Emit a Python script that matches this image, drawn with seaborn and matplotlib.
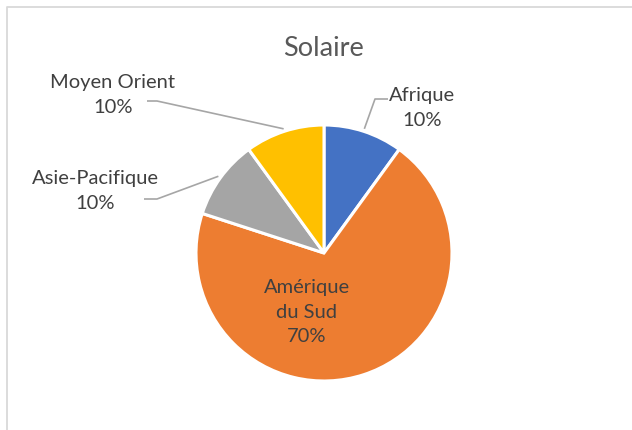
import numpy as np
import matplotlib
matplotlib.use("Agg")
import matplotlib.pyplot as plt
import seaborn as sns

# data
regions = ["Afrique", "Amérique du Sud", "Asie-Pacifique", "Moyen Orient"]
shares = [10, 70, 10, 10]
colors = ["#4472C4", "#ED7D31", "#A5A5A5", "#FFC000"]
title = "Solaire"

sns.set_theme(style="white")
plt.rcParams["font.family"] = ["Lato", "DejaVu Sans"]
palette = sns.color_palette(colors)

W, H = 632, 430
fig = plt.figure(figsize=(W / 100, H / 100), dpi=100)
ax = fig.add_axes([0, 0, 1, 1])


def px(x, y):
    # pixel position (y from top) -> data coords
    return x, H - y


cx, cy = px(324, 253)
R = 128
wedges, _ = ax.pie(shares, colors=palette, startangle=90, counterclock=False,
                   radius=R, center=(cx, cy), frame=True,
                   wedgeprops=dict(edgecolor="white", linewidth=2.2))
ax.set_xlim(0, W)
ax.set_ylim(0, H)
ax.set_aspect("equal")
ax.axis("off")

txt_col = "#404040"
line_col = "#A6A6A6"
fs = 14.5
lsp = 1.55

# outside labels: text centre, then elbow points of the leader line
outside = {
    "Afrique": ((422, 108), [(388, 99), (375, 99)]),
    "Asie-Pacifique": ((95, 191), [(144, 199), (157, 199)]),
    "Moyen Orient": ((113, 95), [(147, 101), (157, 101)]),
}

for w, name, share in zip(wedges, regions, shares):
    mid = np.deg2rad((w.theta1 + w.theta2) / 2)
    if name in outside:
        (tx, ty), elbow = outside[name]
        ax.text(*px(tx, ty), f"{name}\n{share}%", ha="center", va="center",
                fontsize=fs, color=txt_col, linespacing=lsp)
        ex, ey = cx + R * 1.02 * np.cos(mid), cy + R * 1.02 * np.sin(mid)
        pts = [px(*p) for p in elbow] + [(ex, ey)]
        ax.plot([p[0] for p in pts], [p[1] for p in pts], color=line_col,
                lw=1.2, solid_capstyle="butt")
    else:
        ax.text(*px(307, 312), name.replace(" du", "\ndu") + f"\n{share}%",
                ha="center", va="center", fontsize=fs, color=txt_col,
                linespacing=lsp)

ax.text(*px(323, 49), title, ha="center", va="center", fontsize=19.5,
        color="#595959")

# chart area border (only left and top visible)
ax.plot([7, 7, W + 5], [-5, H - 7, H - 7], color="#D9D9D9", lw=1.3,
        clip_on=False)

fig.savefig("out.png", dpi=100, facecolor="white")
